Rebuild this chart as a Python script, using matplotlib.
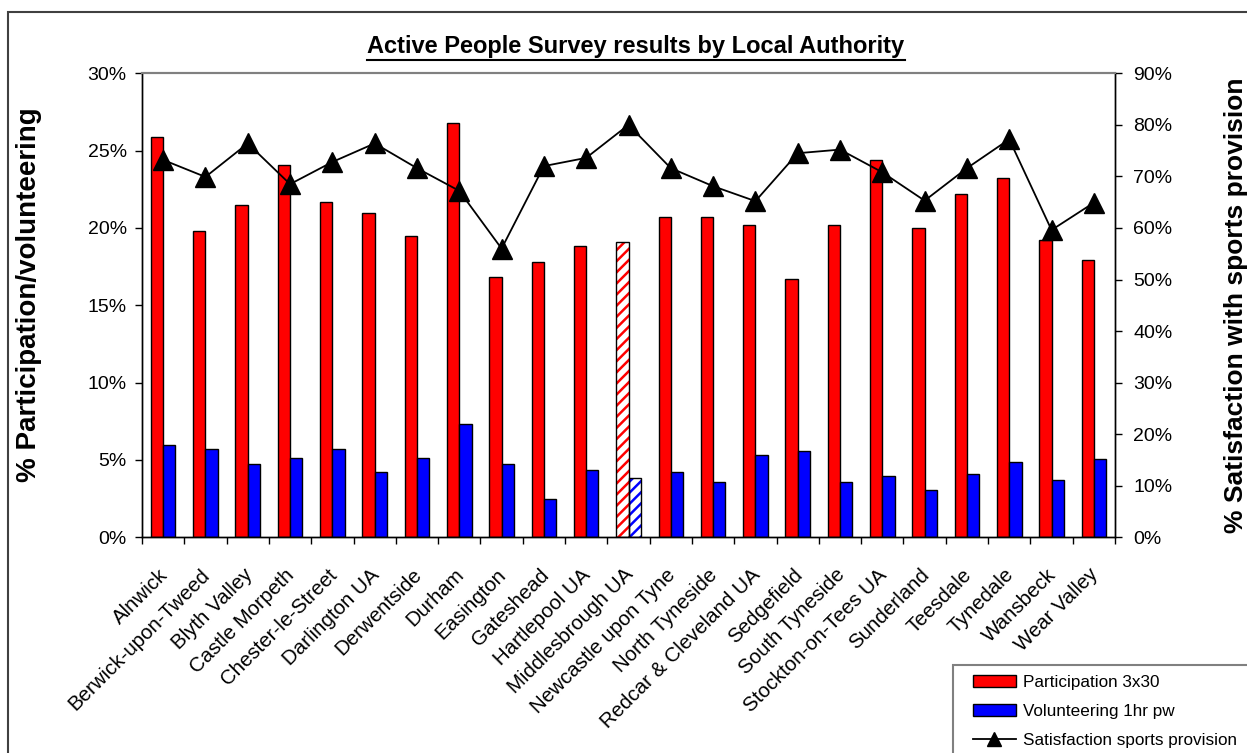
import matplotlib
matplotlib.use("Agg")
import matplotlib.pyplot as plt
import numpy as np
from matplotlib.patches import Patch, Rectangle
from matplotlib.lines import Line2D
from matplotlib.transforms import ScaledTranslation

plt.rcParams['font.family'] = ['Liberation Sans', 'DejaVu Sans']
plt.rcParams['hatch.linewidth'] = 1.8

authorities = ["Alnwick", "Berwick-upon-Tweed", "Blyth Valley", "Castle Morpeth",
               "Chester-le-Street", "Darlington UA", "Derwentside", "Durham",
               "Easington", "Gateshead", "Hartlepool UA", "Middlesbrough UA",
               "Newcastle upon Tyne", "North Tyneside", "Redcar & Cleveland UA",
               "Sedgefield", "South Tyneside", "Stockton-on-Tees UA", "Sunderland",
               "Teesdale", "Tynedale", "Wansbeck", "Wear Valley"]
participation = [25.9, 19.8, 21.5, 24.1, 21.7, 21.0, 19.5, 26.8,
                 16.85, 17.8, 18.85, 19.1, 20.7, 20.7, 20.2,
                 16.7, 20.2, 24.4, 20.0, 22.2, 23.2, 19.2, 17.9]
volunteering = [6.0, 5.7, 4.75, 5.15, 5.7, 4.25, 5.15, 7.3,
                4.75, 2.5, 4.35, 3.85, 4.25, 3.55, 5.3,
                5.6, 3.55, 3.95, 3.05, 4.1, 4.9, 3.7, 5.05]
satisfaction = [73.2, 69.9, 76.4, 68.5, 72.8, 76.4, 71.6, 67.2,
                56.0, 72.0, 73.6, 80.0, 71.6, 68.1, 65.2,
                74.5, 75.2, 70.8, 65.3, 71.6, 77.2, 59.6, 64.9]
highlight = "Middlesbrough UA"
left_ticks = [0, 5, 10, 15, 20, 25, 30]
right_ticks = [0, 10, 20, 30, 40, 50, 60, 70, 80, 90]

W, H = 1247, 753
fig = plt.figure(figsize=(W / 100, H / 100), dpi=100)
ax = fig.add_axes([142 / W, 1 - 537.3 / H, (1115 - 142) / W, (537.3 - 73.3) / H])
ax2 = ax.twinx()

x = np.arange(len(authorities))
bw = 0.29
for i, name in enumerate(authorities):
    if name == highlight:
        ax.bar(x[i] - bw / 2, participation[i], bw, facecolor='white', edgecolor='#ff0000',
               hatch='///', linewidth=0, zorder=2)
        ax.bar(x[i] - bw / 2, participation[i], bw, facecolor='none', edgecolor='black',
               linewidth=1.0, zorder=3)
        ax.bar(x[i] + bw / 2, volunteering[i], bw, facecolor='white', edgecolor='#0000ff',
               hatch='///', linewidth=0, zorder=2)
        ax.bar(x[i] + bw / 2, volunteering[i], bw, facecolor='none', edgecolor='black',
               linewidth=1.0, zorder=3)
    else:
        ax.bar(x[i] - bw / 2, participation[i], bw, facecolor='#ff0000', edgecolor='black',
               linewidth=1.0, zorder=2)
        ax.bar(x[i] + bw / 2, volunteering[i], bw, facecolor='#0000ff', edgecolor='black',
               linewidth=1.0, zorder=2)

ax2.plot(x, satisfaction, color='black', linewidth=1.3, marker='^', markersize=14,
         markerfacecolor='black', markeredgecolor='black', zorder=4)

ax.set_xlim(-0.5, len(authorities) - 0.5)
ax.set_ylim(0, 30)
ax2.set_ylim(0, 90)
ax.set_yticks(left_ticks)
ax.set_yticklabels([f"{v}%" for v in left_ticks])
ax2.set_yticks(right_ticks)
ax2.set_yticklabels([f"{v}%" for v in right_ticks])

ax.set_xticks(x)
ax.set_xticklabels(authorities, rotation=45, ha='right', rotation_mode='anchor', fontsize=14.8)
ax.tick_params(axis='x', which='major', length=0, pad=20)
for lab in ax.get_xticklabels():
    lab.set_transform(lab.get_transform() + ScaledTranslation(-5 / 100, 0, fig.dpi_scale_trans))
ax.set_xticks(np.arange(len(authorities) + 1) - 0.5, minor=True)
ax.tick_params(axis='x', which='minor', length=5, width=1, direction='out', color='black')
ax.tick_params(axis='y', labelsize=14, length=5, width=1, direction='out', pad=6)
ax2.tick_params(axis='y', labelsize=14, length=5, width=1, direction='out', pad=8)

for a in (ax, ax2):
    a.spines['top'].set_color('#808080')
    a.spines['top'].set_linewidth(1.5)
    for s in ('left', 'right', 'bottom'):
        a.spines[s].set_color('black')
        a.spines[s].set_linewidth(1.0)
ax2.patch.set_visible(False)

title = fig.text(636 / W, 1 - 47 / H, "Active People Survey results by Local Authority",
                 ha='center', va='center', fontsize=17, fontweight='bold')
fig.text(29 / W, 1 - 295 / H, "% Participation/volunteering", rotation=90,
         ha='center', va='center', fontsize=20, fontweight='bold')
fig.text(1236 / W, 1 - 305 / H, "% Satisfaction with sports provision", rotation=90,
         ha='center', va='center', fontsize=19, fontweight='bold')

# figure border and legend frame (extend past the canvas edges)
fig.patches.append(Rectangle((8 / W, -0.1), 1.2, 1 - 12 / H + 0.1, transform=fig.transFigure,
                             fill=False, edgecolor='#404040', linewidth=1.5))
fig.patches.append(Rectangle((953 / W, -0.1), 0.5, 1 - 665 / H + 0.1, transform=fig.transFigure,
                             facecolor='white', edgecolor='#808080', linewidth=1.5, zorder=5))

handles = [Patch(facecolor='#ff0000', edgecolor='black', linewidth=1.0),
           Patch(facecolor='#0000ff', edgecolor='black', linewidth=1.0),
           Line2D([0], [0], color='black', linewidth=1.3, marker='^', markersize=10)]
labels = ["Participation 3x30", "Volunteering 1hr pw", "Satisfaction sports provision"]
leg = fig.legend(handles, labels, loc='upper left', bbox_to_anchor=(973 / W, 1 - 675 / H),
                 frameon=False, fontsize=12.3, handlelength=2.5, handletextpad=0.4,
                 labelspacing=0.82, borderaxespad=0, borderpad=0)
leg.set_zorder(6)

fig.canvas.draw()
bb = title.get_window_extent()
fig.add_artist(Line2D([bb.x0 / W, bb.x1 / W], [(bb.y0 - 1) / H, (bb.y0 - 1) / H],
                      transform=fig.transFigure, color='black', linewidth=1.5))

fig.savefig("out.png", dpi=100)
